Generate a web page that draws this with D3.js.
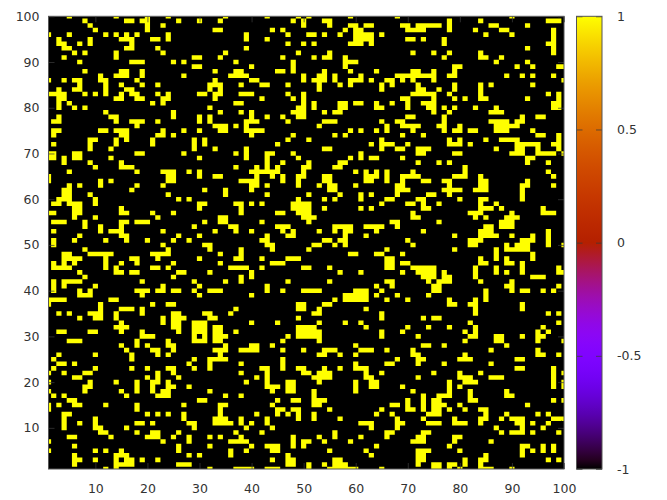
<!DOCTYPE html>
<html><head><meta charset="utf-8">
<script src="https://cdn.jsdelivr.net/npm/d3@7"></script>
<style>html,body{margin:0;padding:0;background:#fff}svg{display:block}text{font-family:"DejaVu Sans",sans-serif;font-size:12.5px;fill:#333}</style>
</head><body><div id="c"></div>
<script>
const xTicks=[10,20,30,40,50,60,70,80,90,100];
const yTicks=[10,20,30,40,50,60,70,80,90,100];
const cbTicks=[-1,-0.5,0,0.5,1];
const cbLabels=["-1","-0.5","0","0.5","1"];
// columns whose value is +1, listed from row 100 down to row 1; every other cell is -1
const hotColumns=[
"5 14 20 24 35 43 49 51 59 68 90",
"8 16-17 19-20 26 30 34 48 50 54-55 78 84 97-99",
"9 20 23 50 55 59-60 62-63 69-70 72-76 78 86-87 93",
"10 20 33-34 44 46 58 60-61 70-73 78 83 88-89 98",
"1 5 12 14 16 18 24 39 47 51-52 54 57 60-63 65 85 90 98",
"3 9 15-17 21-22 24 39 43 60-63 70-71 73 77 98",
"3-4 7 9 17 47 50 52 59-61 63 77 97-98",
"4-5 16-17 22 39 93 98",
"6 8 14 23 35 49 55 71 75 78 84 98",
"4 14 29-30 34 46 52 54-55 58 77 84-85 88",
"7 17-19 25 27 37 48 58-60 87 93",
"29-30 40 48 58 79-80 91 94 99-100",
"8 15-16 19 33 37-38 45-46 48 54 59 64 71-72 75 79",
"11 14-16 19 27 36-39 50 53-54 56 61 68-75 78-79 89 92 94 98",
"1 4 6-7 11-12 18 33 40-41 50 52-54 56 59-61 63 66-67 69 71 75 100",
"7 12 15 19 22 32-34 38 42-43 47 53 57 59 65 67 72 79 84 86 94",
"3 6-7 12 16-17 32 34 53 65 72-73 76 79 84",
"1-4 8 10 12 15 17-18 22 24 30-31 33-34 38-40 47 50 71-75 78 84 97 99",
"3-4 14-15 18-19 23-24 33 42 48 50 69-70 75 79 81 84-85 93 99",
"3 5 21 23 37-38 50 52 57-58 60-61 64 67 70 73-75 98-99",
"3 6 8 32 49-50 52 57-58 64-65 70 74-75 77 79 83 87 98-99",
"12 25 34 38 40 48-50 54 56-57 75 78 86-88",
"3 13-14 25 30 32 40 43 46 49-50 70-71 77 92 95-96",
"2-3 14 17-19 22 30 32 39-41 47 54-56 65 68-69 77 86-89 91-92",
"18 33-35 37 39 53 66 69-72 76-77 80 87-91",
"2-3 11-12 14-16 23 27 30 34-35 39-42 59 61 64 66 71 77 79-80 82-83 87-89 94",
"2 15-16 22-23 25 40 48 56 58 69 73 95-96 99",
"9-10 14 16 21 29 31 47 51 65 78 80 85 88-91 99",
"2 9 14 21 29 31 45 63 65-67 70 78-80 82 91-95 98-99",
"9 13 29 33 39 54-55 65 68-69 72-74 87 91-92 95 99",
"1-2 6-7 18-19 27 37 39 43-44 48 61 72-73 79-80 90-92 95-98 100",
"1-2 4 6-7 13 30 39 43 49 59 61 63-64 69 93-94",
"4 9 15 43 46 51 57-58 72 76 78 93 97",
"10 15-17 37 41 43 45 50-51 56-57 81",
"5 18 23-25 28 30 40-45 50 60 62 64 66 71 81 97",
"1 24-25 30 33-34 41 44 46 49-50 54-55 62-64 66 69-72 79-81 84 98",
"1 11 13 24-25 38-41 46 49 54-55 62-63 66 69 73-74 77-78 84-85 93",
"5 7 11 18 23 40-41 43 49 53 55-56 60 68-69 78 84-85 92-93 98",
"4-5 17 31 35 40 55-56 68-70 77-80 83-85 92",
"4-5 9 24 35 43 51 57 61 63 68 74-75 78 92",
"3-5 10 26 28 49 54 56 61 66-67 72-73 80 84-85 92",
"2-3 5-7 10 30-31 37-38 40 42 48-51 65 70-71 73 76 84 87",
"6-7 15 30 38 48-51 54 61 63 73-74 84-86 88 96",
"1-2 6-7 15-16 21 25 38 45-46 49-51 71 82-84 90 96-98",
"6 10 22 34-35 50-52 71-72 83 85 89-91",
"2-4 8 15-16 18-20 31 34-35 42 51 67-68 76 88-90",
"8 11 15 29 36-37 45-47 56-59 62-65 68 85-86 88-90",
"2 11 13-15 23 33 37 40 46 48 53 56 58-59 64 73 84-86 97",
"7 15-16 26 30 43 47-48 58 62 79 84-87 90 94 97",
"2 6 12 16 20 25 28 42-43 54-55 57-58 70 82-84 92-94 97",
"2 23 31-32 43-44 52-53 56 58 71 82-83 89 91-93 97 100",
"8 24 32 38 44 51 66 79 87 89-93",
"4-5 9-13 21-24 34 38 59-60 64-65 69 87 94",
"4-7 12 17-18 22 30 37-38 42 47-49 66-67 84 87 89 94",
"2 4 6 12 15 18 25 34 44-46 66-67 69-70 84-85 89-90 92",
"2-5 12 14 21-22 24 36-39 42 50-51 55 66-67 71-75 83 87 92 99",
"7 14-15 17-18 26-27 32 40 57 61 69 72-75 77 83 87 89 92 99-100",
"8 25 38 40 73-75 77-78 83 94-96",
"2 4-7 19 29 35 38 47 55 66-67 74 76-78 84 90",
"2 4 10 23 30 43 64 67 75-76 89-90 99",
"2 7 9 18-20 22-23 25-26 29 32-34 43 46 50-53 60-62 65 75-76 85 90 92-93 96 98",
"7-9 19 30 40 58-62 64 68 74 85",
"1-4 13-14 56 58-62 66 70 78 83 85",
"1 11 21 24-25 49-50 54-55 78-79 82-83 92",
"11 15-17 19 37 49-50 53 62 83 92",
"3 5 9-11 14 19 25-26 31-32 36 52-53 65 83 97 99",
"7 10-11 14 23 25-27 32-33 49 65 73 75-76",
"15 23 25-26 29-31 40 45 53 58 61 82 99",
"14-16 25-26 29-31 33-34 49-52 62 70 74 78 83 96",
"3-4 9-10 15 19 26 29-31 33-34 37 49-53 65 69 81 83 95 97",
"19-21 29 31 33-35 47 49-53 65 72 82-83 87-88 92 95-96",
"5-7 18 24 29-31 33-34 46 53 81 87-88 95 100",
"15 18 20 24-25 35 40-41 44 60 73-74 77 89",
"16 21-22 25 33-35 38-41 46 50 54-56 61-63 66 71 86 95",
"3 10 17 22 24 34 53-54 57 60 71-72 81 95-96 99",
"2 17 29 32-35 46 68 72-73 80-82 91-92",
"3-4 6 28 32 38 46 60 66-67 72 77 86",
"2 10 17 20 24-25 29 32 42-43 46 49-50 54 57 60-62 91-92 98",
"1 4 8-9 22 25 38 43 50-51 53-55 62 65 75 80 84 98 100",
"6-7 20 22 26 41 43 52-55 62-63 72 80-82 86-88 98",
"1 9 14 18 21-22 24 39 43 47-48 53 60 63-64 78 81-83 98 100",
"8-9 18 21 24-25 28 43-45 47-48 60 63-64 69 78 80 98 100",
"1 8 15 18 21 23-24 32 44 47-48 52 60 71 78 82 89",
"2 4 16 22-24 35 38 52 73 76-78 82 89-90",
"5-6 30-31 45 48-49 52-54 70 73 75-76 82-83 98 100",
"1 3 6-7 12 18 27 34-35 44 52-53 67-68 70 73 75-77 80 93",
"1 18 34 45-46 48-49 55 65 70-71 73 75-76 78 81 84-85",
"4-5 20 22 24 27 34 41 45 47 49 52 64 67 74-76 85 89 95 97",
"4 10 27 33-35 38 43 49 52 57 68 73 79 84-85 88 90-92 98-100",
"4 7 10 18-19 21 28-29 33-36 38 40 43 61-63 68-69 74-76 79-81 84 91-92 94 97",
"4 10-11 16 29 39 44 63 68 87 92 96",
"11-12 18 21-22 26 37 42 56 66-67 73-74 88 90-92 94 99",
"5-6 13 20-22 25 28 32 34 38 48 53 56 61 66 72-73 79-80",
"1 23 28 36-39 48 50-51 54 59 71-73 79 86",
"6 26 32 40 43-45 48 50 64 78 92-93 96 98",
"1 10 12 15 26 36 39 44-45 55 62 72-74 80 92 94 96 98",
"6 14-16 28 30 36 47 63 72-73 85 92",
"6-7 10 14 16-17 19 22 44 47-48 56-57 72-73 81 84-85 97 99",
"6 14-17 26-28 47-48 51 54 56-58 72 75-76 78-79 81 84",
"12 14 32 37-40 43-45 51 55-60 65 75-76 78 80 84-86 90"
];

const W=667,H=500;
const x=d3.scaleLinear().domain([1,100]).range([48.5,564]);
const y=d3.scaleLinear().domain([1,100]).range([469,16.3]);
const cb=d3.scaleLinear().domain([-1,1]).range([469,16.3]);
// gnuplot's default palette (rgbformulae 7,5,15)
const palette=v=>{const t=(v+1)/2;
  return d3.rgb(255*Math.sqrt(t),255*t*t*t,255*Math.max(0,Math.sin(2*Math.PI*t)))+"";};

const hot=[];
hotColumns.forEach((s,i)=>{const row=100-i;
  s.split(" ").forEach(p=>{const [a,b]=p.split("-").map(Number);
    d3.range(a,(b||a)+1).forEach(c=>hot.push({c,row,v:1}));});});

const svg=d3.select("#c").append("svg").attr("width",W).attr("height",H);
const defs=svg.append("defs");
defs.append("clipPath").attr("id","plot").append("rect")
  .attr("x",x(1)).attr("y",y(100)).attr("width",x(100)-x(1)).attr("height",y(1)-y(100));
const grad=defs.append("linearGradient").attr("id","cbg").attr("x1",0).attr("x2",0).attr("y1",1).attr("y2",0);
d3.range(0,1.0001,0.02).forEach(t=>grad.append("stop").attr("offset",t).attr("stop-color",palette(t*2-1)));

const plot=svg.append("g").attr("clip-path","url(#plot)");
plot.append("rect").attr("x",x(1)).attr("y",y(100)).attr("width",x(100)-x(1)).attr("height",y(1)-y(100)).attr("fill",palette(-1));
const p=d3.path();
hot.forEach(d=>p.rect(x(d.c-.5),y(d.row+.5),x(d.c+.5)-x(d.c-.5),y(d.row-.5)-y(d.row+.5)));
plot.append("path").attr("d",p.toString()).attr("fill",palette(1));

const tickCol="#3a3a3a";
function style(g){g.select(".domain").remove();g.selectAll("line").attr("stroke",tickCol).attr("stroke-opacity",.75);
  g.selectAll("text").attr("fill","#333").style("font-size","12.5px").style("font-family",'"DejaVu Sans",sans-serif');}
svg.append("g").attr("transform",`translate(0,${y(1)})`)
  .call(d3.axisBottom(x).tickValues(xTicks).tickSizeInner(-6).tickPadding(15)).call(style);
svg.append("g").attr("transform",`translate(${x(1)},0)`)
  .call(d3.axisLeft(y).tickValues(yTicks).tickSizeInner(-6).tickPadding(9)).call(style);
svg.append("g").attr("transform",`translate(0,${y(100)})`)
  .call(d3.axisTop(x).tickValues(xTicks).tickSizeInner(-6).tickFormat("")).call(style);
svg.append("g").attr("transform",`translate(${x(100)},0)`)
  .call(d3.axisRight(y).tickValues(yTicks).tickSizeInner(-6).tickFormat("")).call(style);
svg.append("rect").attr("x",x(1)).attr("y",y(100)).attr("width",x(100)-x(1)).attr("height",y(1)-y(100))
  .attr("fill","none").attr("stroke","#555").attr("stroke-width",1);

// colour box
const cbL=576.5,cbR=602;
svg.append("rect").attr("x",cbL).attr("y",cb(1)).attr("width",cbR-cbL).attr("height",cb(-1)-cb(1)).attr("fill","url(#cbg)");
svg.append("g").attr("transform",`translate(${cbL},0)`)
  .call(d3.axisLeft(cb).tickValues(cbTicks).tickSizeInner(-6).tickFormat("")).call(style);
svg.append("g").attr("transform",`translate(${cbR},0)`)
  .call(d3.axisRight(cb).tickValues(cbTicks).tickSizeInner(-6).tickPadding(15).tickFormat((d,i)=>cbLabels[i])).call(style);
svg.append("rect").attr("x",cbL).attr("y",cb(1)).attr("width",cbR-cbL).attr("height",cb(-1)-cb(1))
  .attr("fill","none").attr("stroke","#555").attr("stroke-width",1);
</script></body></html>
